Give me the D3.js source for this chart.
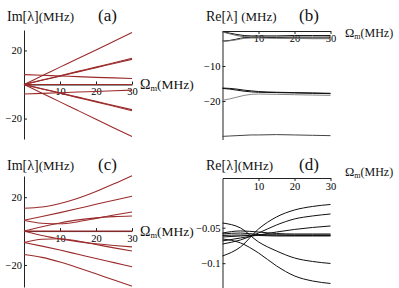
<!DOCTYPE html>
<html>
<head>
<meta charset="utf-8">
<script src="https://cdn.jsdelivr.net/npm/d3@7"></script>
<style>
  body { margin: 0; background: #fff; }
  svg { display: block; }
  text { font-family: 'Liberation Serif', 'Times New Roman', Times, 'DejaVu Serif', serif; }
</style>
</head>
<body>
<svg id="chart" width="399" height="288"></svg>
<script>
// Omega_m grid (MHz)
var omega = [0, 5, 10, 15, 20, 25, 30];
var omegaB = [0, 2, 4, 6, 8, 10, 15, 20, 25, 30];
var xTicks = [10, 20, 30];

// (a) Im[lambda], uncoupled
var imA = [
  [0, 5.1, 10.2, 15.3, 20.3, 25.4, 30.5],
  [0, 2.6, 5.1, 7.7, 10.2, 12.8, 15.4],
  [0, 2.5, 4.9, 7.4, 9.9, 12.3, 14.8],
  [5.8, 5.4, 5.0, 4.6, 4.2, 3.9, 3.5],
  [0, 0, 0, 0, 0, 0, 0],
  [-5.6, -5.2, -4.8, -4.4, -4.1, -3.7, -3.3],
  [0, -2.5, -4.9, -7.4, -9.9, -12.3, -14.8],
  [0, -2.6, -5.1, -7.7, -10.2, -12.8, -15.4],
  [0, -5.1, -10.2, -15.3, -20.4, -25.5, -30.6]
];
var imTicks = [20, -20];

// (b) Re[lambda], uncoupled
var reB = [
  [-0.2, -0.6, -1.0, -1.3, -1.4, -1.4, -1.4, -1.3, -1.3, -1.3],
  [-0.3, -0.8, -1.3, -1.6, -1.7, -1.7, -1.7, -1.7, -1.7, -1.7],
  [-2.9, -2.7, -2.3, -1.9, -1.8, -1.8, -1.9, -2.0, -2.0, -2.0],
  [-3.0, -2.8, -2.5, -2.1, -2.0, -2.0, -2.1, -2.1, -2.2, -2.2],
  [-16.3, -16.4, -16.6, -16.9, -17.1, -17.3, -17.5, -17.6, -17.7, -17.8],
  [-16.4, -16.6, -16.9, -17.2, -17.4, -17.5, -17.6, -17.7, -17.8, -17.9],
  [-19.8, -19.4, -18.9, -18.4, -18.1, -18.0, -18.1, -18.2, -18.3, -18.4],
  [-30.1, -30.0, -29.9, -29.8, -29.7, -29.7, -29.6, -29.7, -29.8, -29.9]
];
var reBColors = ["#111", "#666", "#111", "#777", "#111", "#111", "#888", "#444"];
var reBTicks = [-10, -20];

// (c) Im[lambda], coupled
var imC = [
  [13.5, 14.2, 16.3, 19.4, 23.4, 27.9, 32.7],
  [6.4, 8.6, 10.9, 13.3, 15.8, 18.2, 20.6],
  [6.4, 4.6, 4.3, 5.5, 7.5, 9.5, 11.3],
  [0, 2.6, 4.8, 6.6, 7.8, 8.5, 8.9],
  [0, 0, 0, 0, 0, 0, 0],
  [0, -2.6, -4.6, -6.2, -7.5, -8.5, -9.3],
  [-6.7, -4.8, -4.5, -5.9, -7.9, -9.9, -11.8],
  [-6.7, -8.9, -11.2, -13.7, -16.2, -18.6, -21.0],
  [-13.8, -15.5, -18.2, -21.6, -25.2, -28.9, -32.5]
];

// (d) Re[lambda], coupled
var reD = [
  [-0.0434, -0.0504, -0.0701, -0.0828, -0.0927, -0.0976, -0.1004],
  [-0.0659, -0.0715, -0.0856, -0.1039, -0.1180, -0.1251, -0.1286],
  [-0.0899, -0.0772, -0.0518, -0.0349, -0.0251, -0.0201, -0.0173],
  [-0.0730, -0.0673, -0.0575, -0.0462, -0.0377, -0.0335, -0.0307],
  [-0.0687, -0.0645, -0.0603, -0.0561, -0.0525, -0.0497, -0.0476],
  [-0.0575, -0.0546, -0.0561, -0.0582, -0.0589, -0.0589, -0.0589],
  [-0.0589, -0.0575, -0.0596, -0.0603, -0.0603, -0.0603, -0.0603],
  [-0.0610, -0.0603, -0.0610, -0.0617, -0.0617, -0.0617, -0.0617],
  [-0.0631, -0.0617, -0.0603, -0.0603, -0.0610, -0.0610, -0.0610]
];
var reDTicks = [-0.05, -0.1];

var svg = d3.select("#chart");
var red = "#9b2b2b";
var serif = "'Liberation Serif', 'Times New Roman', Times, 'DejaVu Serif', serif";

function panel(p) {
  var g = svg.append("g");
  var x = d3.scaleLinear().domain([0, 30]).range(p.xRange);
  var y = d3.scaleLinear().domain(p.yDomain).range(p.yRange);

  // axes first, curves drawn over them
  var xa = g.append("g")
    .attr("transform", "translate(0," + y(p.xAxisAt) + ")")
    .call(d3.axisBottom(x).tickValues(xTicks).tickSize(p.xTickSize)
      .tickPadding(p.xPad).tickSizeOuter(0));
  var ya = g.append("g")
    .attr("transform", "translate(" + x(0) + ",0)")
    .call(d3.axisLeft(y).tickValues(p.yTicks).tickFormat(p.fmt)
      .tickSize(-3).tickPadding(2).tickSizeOuter(0));
  [xa, ya].forEach(function (a) {
    a.attr("font-family", serif).attr("font-size", 10.5);
    a.selectAll("path,line").attr("stroke", "#222");
  });

  var line = d3.line()
    .curve(d3.curveMonotoneX)
    .x(function (d) { return x(d[0]); })
    .y(function (d) { return y(d[1]); });

  p.series.forEach(function (s, i) {
    g.append("path")
      .attr("d", line(p.grid.map(function (o, j) { return [o, s[j]]; })))
      .attr("fill", "none")
      .attr("stroke", p.colors ? p.colors[i] : p.color)
      .attr("stroke-width", p.width);
  });
}

function title(x, y, parts) {
  var t = svg.append("text").attr("x", x).attr("y", y)
    .attr("font-family", serif).attr("fill", "#111");
  parts.forEach(function (q) {
    var s = t.append("tspan").attr("font-size", q[1]).text(q[0]);
    if (q[2]) s.attr("dy", q[2]);
  });
}

panel({ xRange: [24, 132], yDomain: [-32, 32], yRange: [139, 30], xAxisAt: 0,
  xTickSize: -3, xPad: 3, yTicks: imTicks, fmt: d3.format("d"),
  series: imA, grid: omega, color: red, width: 1.1 });
panel({ xRange: [222.5, 330.5], yDomain: [-31, 0], yRange: [139.5, 31], xAxisAt: 0,
  xTickSize: 3, xPad: 1, yTicks: reBTicks, fmt: d3.format("d"),
  series: reB, grid: omegaB, colors: reBColors, width: 1 });
panel({ xRange: [24, 132], yDomain: [-33, 32.5], yRange: [287, 176], xAxisAt: 0,
  xTickSize: -3, xPad: 3, yTicks: imTicks, fmt: d3.format("d"),
  series: imC, grid: omega, color: red, width: 1.1 });
panel({ xRange: [222.5, 330.5], yDomain: [-0.135, 0.02], yRange: [288, 178], xAxisAt: 0.02,
  xTickSize: 3, xPad: 2, yTicks: reDTicks, fmt: d3.format(".2~f"),
  series: reD, grid: omega, color: "#111", width: 1 });

// titles
title(7, 21, [["Im[λ]", 14], ["(MHz)", 13]]);
title(98, 21, [["(a)", 17]]);
title(140, 89, [["Ω", 14], ["m", 8.5, 2], ["(MHz)", 13.5, -2]]);

title(206, 21, [["Re[λ] ", 14], ["(MHz)", 13]]);
title(299, 21, [["(b)", 17]]);
title(345, 37, [["Ω", 12.5], ["m", 8, 2], ["(MHz)", 12, -2]]);

title(7, 170, [["Im[λ]", 14], ["(MHz)", 13]]);
title(98, 170, [["(c)", 17]]);
title(140, 236, [["Ω", 14], ["m", 8.5, 2], ["(MHz)", 13.5, -2]]);

title(206, 170, [["Re[λ]", 14], ["(MHz)", 13]]);
title(299, 170, [["(d)", 17]]);
title(345, 176, [["Ω", 12.5], ["m", 8, 2], ["(MHz)", 12, -2]]);
</script>
</body>
</html>
